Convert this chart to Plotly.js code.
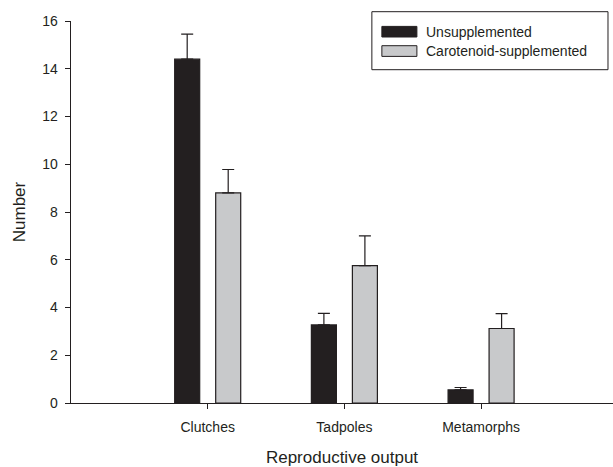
<!DOCTYPE html>
<html>
<head>
<meta charset="utf-8">
<script src="https://cdn.plot.ly/plotly-3.0.1.min.js"></script>
<style>html,body{margin:0;padding:0;background:#fff;overflow:hidden;}#chart{width:613px;height:467px;}</style>
</head>
<body>
<div id="chart"></div>
<script>
const categories = ["Clutches", "Tadpoles", "Metamorphs"];
const seriesNames = ["Unsupplemented", "Carotenoid-supplemented"];
const unsupplemented = [14.4, 3.27, 0.55];
const unsupplementedErr = [1.05, 0.48, 0.1];
const supplemented = [8.8, 5.75, 3.12];
const supplementedErr = [0.98, 1.25, 0.62];
const yTicks = [0, 2, 4, 6, 8, 10, 12, 14, 16];
const seriesColors = ["#231f20", "#c8c9cb"];

const ink = "#231f20";
const font = "Liberation Sans, Arial, sans-serif";

function barTrace(name, y, err, color) {
  return {
    type: "bar",
    name: name,
    x: categories,
    y: y,
    marker: {color: color, line: {color: ink, width: 1.2}},
    error_y: {type: "data", symmetric: false, array: err, arrayminus: err.map(() => 0),
              color: ink, thickness: 1.2, width: 6},
    showlegend: false,
    hoverinfo: "skip"
  };
}

const traces = [
  barTrace(seriesNames[0], unsupplemented, unsupplementedErr, seriesColors[0]),
  barTrace(seriesNames[1], supplemented, supplementedErr, seriesColors[1])
];

// legend drawn as shapes + annotations (plot area: px 71.3..613, py 21.3..403.3)
const L = 71.3, W = 541.7, B = 403.3, H = 382;
const px = v => (v - L) / W;
const py = v => (B - v) / H;

const shapes = [
  {type: "rect", xref: "paper", yref: "paper", x0: px(372), x1: px(608), y0: py(70), y1: py(12),
   line: {color: ink, width: 1}, fillcolor: "rgba(0,0,0,0)"},
  {type: "rect", xref: "paper", yref: "paper", x0: px(382), x1: px(417), y0: py(37.3), y1: py(26.7),
   line: {color: ink, width: 1}, fillcolor: seriesColors[0]},
  {type: "rect", xref: "paper", yref: "paper", x0: px(382), x1: px(417), y0: py(56.7), y1: py(46),
   line: {color: ink, width: 1}, fillcolor: seriesColors[1]}
];
const annotations = [
  {xref: "paper", yref: "paper", x: px(424), y: py(32), xanchor: "left", yanchor: "middle",
   text: seriesNames[0], showarrow: false, font: {family: font, size: 14, color: ink}},
  {xref: "paper", yref: "paper", x: px(424), y: py(51.3), xanchor: "left", yanchor: "middle",
   text: seriesNames[1], showarrow: false, font: {family: font, size: 14, color: ink}}
];

const layout = {
  width: 613, height: 467,
  margin: {l: 71.3, r: 0, t: 21.3, b: 63.7},
  paper_bgcolor: "#fff", plot_bgcolor: "#fff",
  barmode: "group", bargap: 0.4, bargroupgap: 0.39,
  font: {family: font, color: ink},
  showlegend: false,
  xaxis: {
    type: "category", range: [-1, 2.965],
    showline: true, linecolor: ink, linewidth: 1.3,
    ticks: "outside", ticklen: 5, tickcolor: ink, tickwidth: 1,
    ticklabelstandoff: 6,
    showgrid: false, zeroline: false,
    tickfont: {family: font, size: 14, color: ink},
    title: {text: "Reproductive output", font: {family: font, size: 17, color: ink}, standoff: 22}
  },
  yaxis: {
    range: [0, 16], tickvals: yTicks,
    showline: true, linecolor: ink, linewidth: 1.3,
    ticks: "outside", ticklen: 5, tickcolor: ink, tickwidth: 1,
    ticklabelstandoff: 4,
    showgrid: false, zeroline: false,
    tickfont: {family: font, size: 14, color: ink},
    title: {text: "Number", font: {family: font, size: 17, color: ink}, standoff: 12}
  },
  shapes: shapes,
  annotations: annotations
};

Plotly.newPlot("chart", traces, layout, {staticPlot: true, displayModeBar: false});
</script>
</body>
</html>
